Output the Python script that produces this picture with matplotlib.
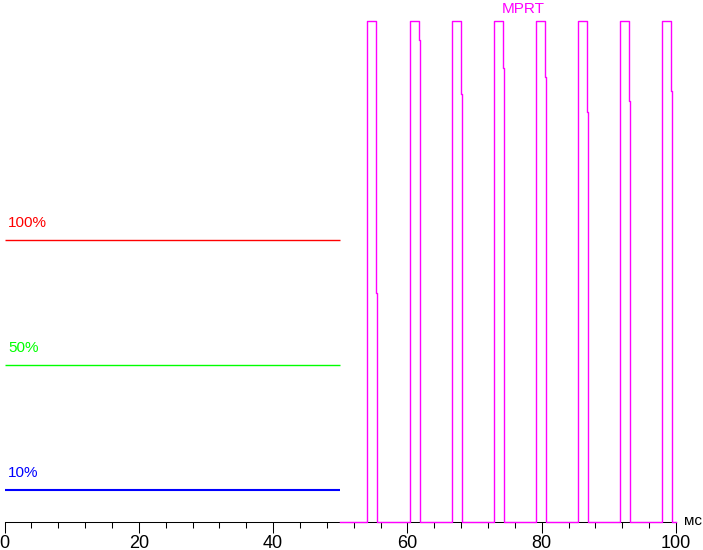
import matplotlib
matplotlib.use("Agg")
import matplotlib.pyplot as plt
from matplotlib.ticker import MultipleLocator

plt.rcParams['font.family'] = ['Liberation Sans', 'DejaVu Sans']

# Data (time in ms, level in arbitrary units)
levels_labels = ["100%", "50%", "10%"]
levels_values = [56.3, 31.3, 6.4]
levels_colors = ["#ff0000", "#00ff00", "#0000ff"]
levels_start, levels_end = 0, 50

pulse_rise = [54.0, 60.35, 66.6, 72.85, 79.1, 85.35, 91.6, 97.85]
pulse_fall = [55.35, 61.8, 68.0, 74.3, 80.55, 86.75, 93.0, 99.25]
fall_step = [45.7, 96.2, 85.4, 90.6, 88.8, 81.8, 84.0, 86.0]
pulse_high = 100.0
mprt_start, mprt_end = 50, 100

fig = plt.figure(figsize=(7.03, 5.5), dpi=100)
ax = fig.add_axes([4.5/703, 28/550, (676-4.5)/703, 522/550])
ax.set_xlim(0, 100)
ax.set_ylim(0, 104.2)

for lab, val, col in zip(levels_labels, levels_values, levels_colors):
    lw = 1.5 if lab == "10%" else 1.0
    ax.plot([levels_start, levels_end], [val, val], color=col, lw=lw, solid_capstyle='butt')
    ax.text(0.5, val + 3.4, lab, color=col, fontsize=11, ha='left', va='center')

t = [mprt_start]
v = [0]
for r, f, s in zip(pulse_rise, pulse_fall, fall_step):
    t += [r, r, f, f, f + 0.15, f + 0.15]
    v += [0, pulse_high, pulse_high, s, s, 0]
t.append(mprt_end)
v.append(0)
ax.plot(t, v, color="#ff00ff", lw=1.0, clip_on=False, zorder=3)
ax.text(77.2, 102.5, "MPRT", color="#ff00ff", fontsize=11, ha='center', va='center')

for sp in ['top', 'right', 'left']:
    ax.spines[sp].set_visible(False)
ax.spines['bottom'].set_linewidth(0.75)
ax.set_yticks([])
ax.xaxis.set_major_locator(MultipleLocator(20))
ax.xaxis.set_minor_locator(MultipleLocator(4))
ax.tick_params(axis='x', which='major', direction='out', length=8, width=0.75, labelsize=13, pad=1)
ax.tick_params(axis='x', which='minor', direction='out', length=4.3, width=0.75)
ax.annotate("мс", xy=(1, 0), xycoords='axes fraction', xytext=(6, 1), textcoords='offset points',
            ha='left', va='center', fontsize=11, annotation_clip=False)

fig.savefig("out.png", dpi=100)
